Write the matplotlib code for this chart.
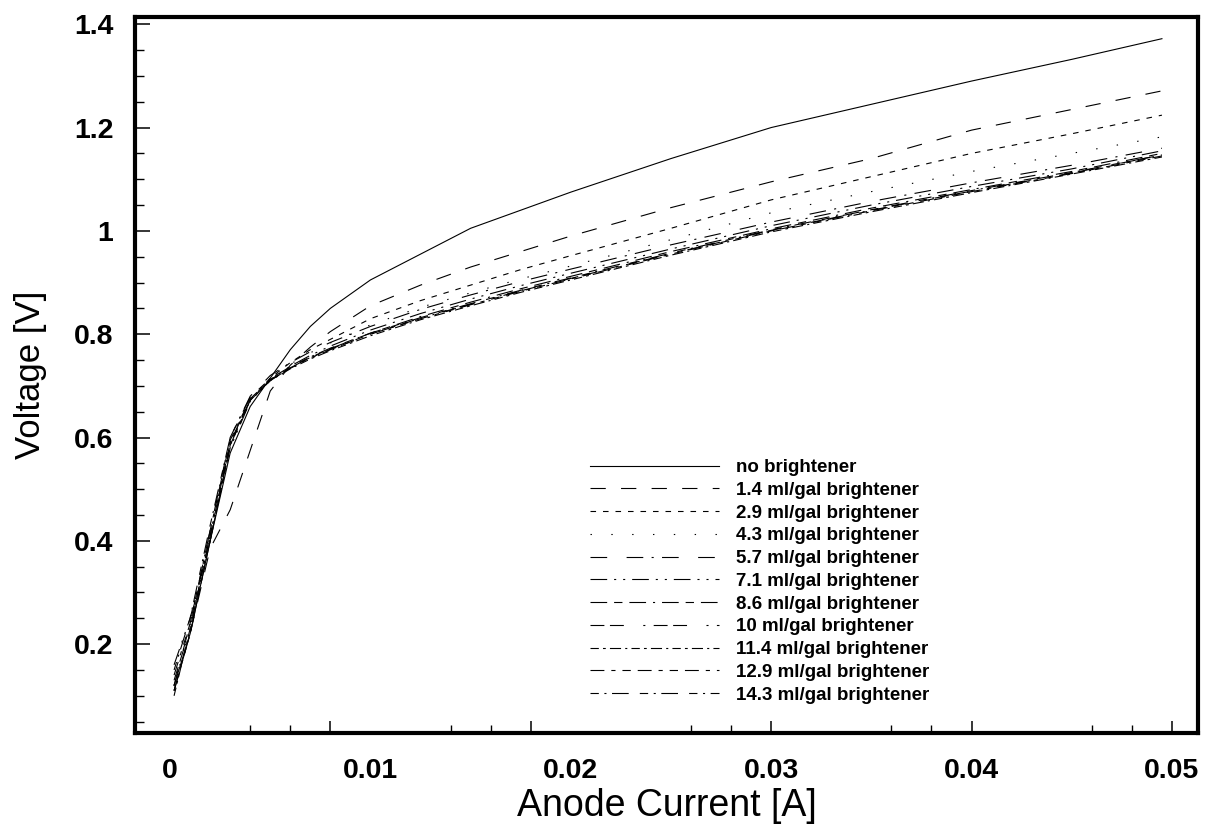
import matplotlib
matplotlib.use("Agg")
import matplotlib.pyplot as plt
from matplotlib.ticker import FixedLocator, MultipleLocator, FormatStrFormatter

plt.rcParams['font.family'] = ['Liberation Sans', 'DejaVu Sans']
plt.rcParams['lines.scale_dashes'] = False

# anode current [A], shared by all runs
current = [0.0002, 0.001, 0.002, 0.003, 0.004, 0.005, 0.006, 0.007, 0.008, 0.010,
           0.0125, 0.015, 0.0175, 0.020, 0.025, 0.030, 0.035, 0.040, 0.045, 0.0495]

# voltage [V] for each brightener level
v_none = [0.12, 0.22, 0.40, 0.57, 0.66, 0.715, 0.77, 0.815, 0.85, 0.905,
          0.955, 1.005, 1.04, 1.075, 1.14, 1.20, 1.245, 1.29, 1.332, 1.372]
v_1_4 = [0.11, 0.22, 0.385, 0.46, 0.575, 0.69, 0.74, 0.775, 0.805, 0.855,
         0.895, 0.93, 0.96, 0.99, 1.045, 1.095, 1.14, 1.195, 1.235, 1.271]
v_2_9 = [0.11, 0.22, 0.40, 0.585, 0.672, 0.715, 0.745, 0.77, 0.79, 0.83,
         0.865, 0.895, 0.925, 0.952, 1.005, 1.06, 1.105, 1.15, 1.188, 1.224]
v_4_3 = [0.12, 0.23, 0.41, 0.59, 0.675, 0.714, 0.742, 0.764, 0.783, 0.818,
         0.852, 0.88, 0.907, 0.932, 0.983, 1.035, 1.076, 1.115, 1.15, 1.182]
v_5_7 = [0.12, 0.24, 0.42, 0.60, 0.68, 0.72, 0.745, 0.766, 0.784, 0.815,
         0.848, 0.876, 0.902, 0.926, 0.973, 1.017, 1.057, 1.093, 1.127, 1.16]
v_7_1 = [0.16, 0.25, 0.40, 0.58, 0.67, 0.712, 0.738, 0.759, 0.777, 0.808,
         0.84, 0.868, 0.894, 0.918, 0.965, 1.01, 1.05, 1.086, 1.12, 1.155]
v_8_6 = [0.11, 0.22, 0.40, 0.585, 0.672, 0.71, 0.735, 0.755, 0.772, 0.802,
         0.834, 0.862, 0.888, 0.912, 0.96, 1.004, 1.044, 1.08, 1.115, 1.15]
v_10 = [0.13, 0.23, 0.41, 0.59, 0.673, 0.711, 0.734, 0.753, 0.77, 0.80,
        0.831, 0.858, 0.884, 0.908, 0.956, 1.001, 1.04, 1.077, 1.112, 1.147]
v_11_4 = [0.10, 0.23, 0.41, 0.59, 0.672, 0.71, 0.733, 0.752, 0.768, 0.797,
          0.828, 0.855, 0.881, 0.905, 0.953, 0.998, 1.037, 1.074, 1.11, 1.143]
v_12_9 = [0.14, 0.24, 0.42, 0.595, 0.675, 0.712, 0.735, 0.754, 0.771, 0.80,
          0.83, 0.857, 0.883, 0.907, 0.955, 1.00, 1.039, 1.076, 1.111, 1.145]
v_14_3 = [0.15, 0.25, 0.43, 0.60, 0.678, 0.714, 0.737, 0.756, 0.773, 0.802,
          0.832, 0.859, 0.885, 0.909, 0.957, 1.002, 1.041, 1.078, 1.113, 1.147]

labels = ['no brightener', '1.4 ml/gal brightener', '2.9 ml/gal brightener',
          '4.3 ml/gal brightener', '5.7 ml/gal brightener', '7.1 ml/gal brightener',
          '8.6 ml/gal brightener', '10 ml/gal brightener', '11.4 ml/gal brightener',
          '12.9 ml/gal brightener', '14.3 ml/gal brightener']
series = [v_none, v_1_4, v_2_9, v_4_3, v_5_7, v_7_1, v_8_6, v_10, v_11_4, v_12_9, v_14_3]

# dash patterns in points (scale_dashes off)
styles = ['-',
          (0, (11, 11)),
          (0, (4, 5)),
          (0, (1, 14)),
          (0, (12, 14, 12, 6, 1.5, 6)),
          (0, (12, 5, 1.5, 5, 1.5, 5)),
          (0, (12, 5, 6, 5, 12, 5, 1.5, 5)),
          (0, (10, 4, 10, 14, 1.5, 6)),
          (0, (6, 3, 2, 3, 8, 3, 1.5, 3)),
          (0, (10, 5, 3, 5, 6, 5)),
          (0, (6, 4, 1.5, 4, 12, 8))]

fig = plt.figure(figsize=(12.07, 8.35), dpi=100)
ax = fig.add_axes([135/1207, 1-733/835, (1198-135)/1207, (733-17)/835])

for v, lab, ls in zip(series, labels, styles):
    ax.plot(current, v, color='black', lw=0.8, linestyle=ls, label=lab)

ax.set_xlim(-0.00175, 0.0513)
ax.set_ylim(0.028, 1.414)

# y axis: labels every 0.2, small ticks every 0.05
ax.yaxis.set_major_locator(MultipleLocator(0.2))
ax.yaxis.set_minor_locator(MultipleLocator(0.05))
ax.yaxis.set_major_formatter(FormatStrFormatter('%g'))
ax.tick_params(axis='y', which='major', direction='in', length=11, width=1.1,
               pad=15.5, labelsize=20.5)
ax.tick_params(axis='y', which='minor', direction='in', length=6.5, width=1.0)
for t in ax.get_yticklabels():
    t.set_fontweight('bold')

# x axis tick marks as they appear on the scan (not aligned with every label)
ax.xaxis.set_major_locator(FixedLocator([0.008, 0.018, 0.030, 0.040, 0.050]))
ax.xaxis.set_minor_locator(FixedLocator([0.004, 0.006, 0.014, 0.016,
                                         0.026, 0.028, 0.036, 0.038, 0.046, 0.048]))
ax.tick_params(axis='x', which='major', direction='in', length=9, width=1.1,
               labelbottom=False)
ax.tick_params(axis='x', which='minor', direction='in', length=6, width=1.0)

sec = ax.secondary_xaxis('bottom')
sec.set_xticks([0, 0.01, 0.02, 0.03, 0.04, 0.05])
sec.xaxis.set_major_formatter(FormatStrFormatter('%g'))
sec.tick_params(length=0, pad=18, labelsize=20.5)
sec.spines['bottom'].set_visible(False)
for t in sec.get_xticklabels():
    t.set_fontweight('bold')

for s in ax.spines.values():
    s.set_linewidth(3)

ax.set_ylabel('Voltage [V]', fontsize=25)
ax.yaxis.set_label_coords(-0.083, 0.5)
ax.set_xlabel('Anode Current [A]', fontsize=27)
ax.xaxis.set_label_coords(0.5, -0.077)

ax.legend(loc='upper left', bbox_to_anchor=(590/1207, 1-459/835),
          bbox_transform=fig.transFigure, frameon=False, borderpad=0,
          borderaxespad=0, handlelength=6.9, handletextpad=0.9,
          labelspacing=0.3, prop={'size': 13.5, 'weight': 'bold'})

fig.savefig('out.png', dpi=100)
